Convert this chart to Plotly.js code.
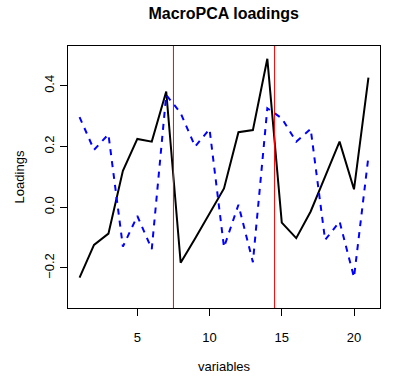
<!DOCTYPE html>
<html>
<head>
<meta charset="utf-8">
<script src="https://cdn.plot.ly/plotly-3.0.1.min.js"></script>
<style>
  html, body { margin: 0; padding: 0; background: white; }
  #plot { width: 396px; height: 377px; }
</style>
</head>
<body>
<div id="plot"></div>
<script>
// variable index 1..21
var variables = [1,2,3,4,5,6,7,8,9,10,11,12,13,14,15,16,17,18,19,20,21]
// loadings (solid black / dashed blue)
var pc1 = [-0.232,-0.124,-0.087,0.120,0.225,0.216,0.381,-0.183,-0.103,-0.022,0.062,0.247,0.254,0.489,-0.051,-0.102,-0.014,0.101,0.216,0.059,0.427]
var pc2 = [0.297,0.189,0.240,-0.130,-0.029,-0.138,0.370,0.310,0.200,0.257,-0.132,0.008,-0.181,0.326,0.293,0.216,0.258,-0.108,-0.047,-0.231,0.167]
// block separators
var separators = [7.5, 14.5]

var traces = [
    {x: variables, y: pc1, type: 'scatter', mode: 'lines', line: {color: 'black', width: 2}},
    {x: variables, y: pc2, type: 'scatter', mode: 'lines', line: {color: 'blue', width: 2, dash: '6px,6px'}}
]

var shapes = separators.map(function(v){
    return {type: 'line', xref: 'x', yref: 'paper', x0: v, x1: v, y0: 0, y1: 1, line: {color: 'red', width: 1}}
})

var layout = {
    width: 396, height: 377,
    margin: {l: 68, r: 16, t: 46, b: 69},
    showlegend: false,
    paper_bgcolor: 'white',
    plot_bgcolor: 'white',
    font: {family: 'Liberation Sans, Arial, sans-serif', size: 13, color: 'black'},
    title: {text: '<b>MacroPCA loadings</b>', font: {size: 16}, x: 0.565, xanchor: 'center', y: 0.964, yanchor: 'middle'},
    xaxis: {
        range: [0.2, 21.8], tickvals: [5, 10, 15, 20],
        ticks: 'outside', ticklen: 7, tickcolor: 'black', ticklabelstandoff: 10,
        showgrid: false, zeroline: false, showline: true, mirror: true, linecolor: 'black', linewidth: 1,
        title: {text: 'variables', standoff: 18, font: {size: 13}}
    },
    yaxis: {
        range: [-0.332, 0.531], tickvals: [-0.2, 0.0, 0.2, 0.4],
        ticktext: ['\u22120.2', '0.0', '0.2', '0.4'], tickangle: -90,
        ticks: 'outside', ticklen: 7, tickcolor: 'black', ticklabelstandoff: 1,
        showgrid: false, zeroline: false, showline: true, mirror: true, linecolor: 'black', linewidth: 1,
        title: {text: 'Loadings', standoff: 14, font: {size: 13}}
    },
    shapes: shapes
}

Plotly.newPlot('plot', traces, layout, {displayModeBar: false, staticPlot: true})
</script>
</body>
</html>
